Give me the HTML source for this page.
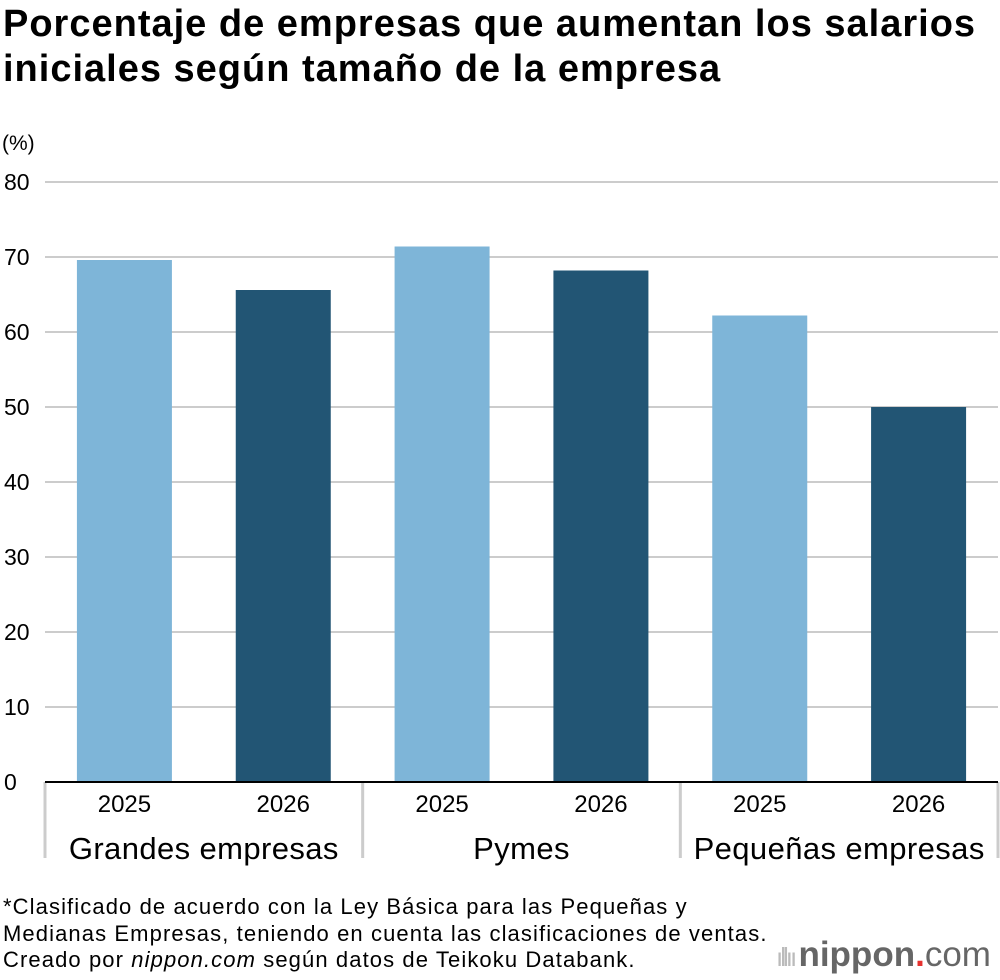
<!DOCTYPE html>
<html><head><meta charset="utf-8"><style>
body{margin:0;width:1000px;height:980px;background:#fff;font-family:"Liberation Sans",sans-serif;color:#000;overflow:hidden;position:relative}
.t{position:absolute;left:3px;top:2px;font-size:38px;font-weight:bold;line-height:45px;letter-spacing:1px}
.n{position:absolute;left:3px;font-size:22px;line-height:26.5px;letter-spacing:1.1px}
</style></head><body>
<div class="t">Porcentaje de empresas que aumentan los salarios<br>iniciales según tamaño de la empresa</div>
<svg id="c" width="1000" height="880" style="position:absolute;left:0;top:0"></svg>
<div class="n" style="top:894px">*Clasificado de acuerdo con la Ley Básica para las Pequeñas y<br>Medianas Empresas, teniendo en cuenta las clasificaciones de ventas.<br>Creado por <i>nippon.com</i> según datos de Teikoku Databank.</div>
<div style="position:absolute;left:776px;top:934px;font-size:35px;color:#666;font-weight:bold;line-height:42px"><span style="color:#bbb;font-weight:normal;font-size:26px;letter-spacing:-3px">ıllıı </span>nippon<span style="color:#e6312e">.</span><span style="font-weight:normal">com</span></div>
<script>
const groups=["Grandes empresas","Pymes","Pequeñas empresas"];
const years=["2025","2026"];
const v2025=[69.6,71.4,62.2];
const v2026=[65.6,68.2,50.0];
const yTicks=[0,10,20,30,40,50,60,70,80];
const svg=document.getElementById('c');const NS='http://www.w3.org/2000/svg';
function mk(t,a,txt){const e=document.createElementNS(NS,t);for(const k in a)e.setAttribute(k,a[k]);if(txt!==undefined)e.textContent=txt;svg.appendChild(e);return e;}
const x0=45,x1=998,y0=782,ppu=7.5;
const y=v=>y0-v*ppu;
const gw=(x1-x0)/groups.length;
const lab=mk('text',{x:2,y:150,'font-size':21},'(%)');


yTicks.forEach(t=>{
  if(t>0){const g=mk('line',{x1:x0,x2:x1,y1:y(t),y2:y(t),stroke:'#ccc','stroke-width':2});
  
  }
  const l=mk('text',{x:4,y:y(t)+8,'font-size':23},String(t));
  
  
});
const bw=95;
groups.forEach((g,i)=>{
  const gx=x0+gw*i;
  [v2025[i],v2026[i]].forEach((v,j)=>{
    const cx=gx+gw*(j===0?0.25:0.75);
    const r=mk('rect',{x:cx-bw/2,y:y(v),width:bw,height:v*ppu,fill:j===0?'#7eb5d8':'#225574'});
    
    
    const tl=mk('text',{x:cx,y:812,'font-size':24,'text-anchor':'middle'},years[j]);
    
    
  });
  const gl=mk('text',{x:gx+gw/2,y:859,'font-size':31,'letter-spacing':'0.4','text-anchor':'middle'},g);
  
  
});
for(let i=0;i<=groups.length;i++){
  const s=mk('line',{x1:x0+gw*i,x2:x0+gw*i,y1:y0,y2:858,stroke:'#ccc','stroke-width':3});
  
  
}
const ax=mk('line',{x1:x0,x2:x1,y1:y0,y2:y0,stroke:'#000','stroke-width':2});


</script>
</body></html>
